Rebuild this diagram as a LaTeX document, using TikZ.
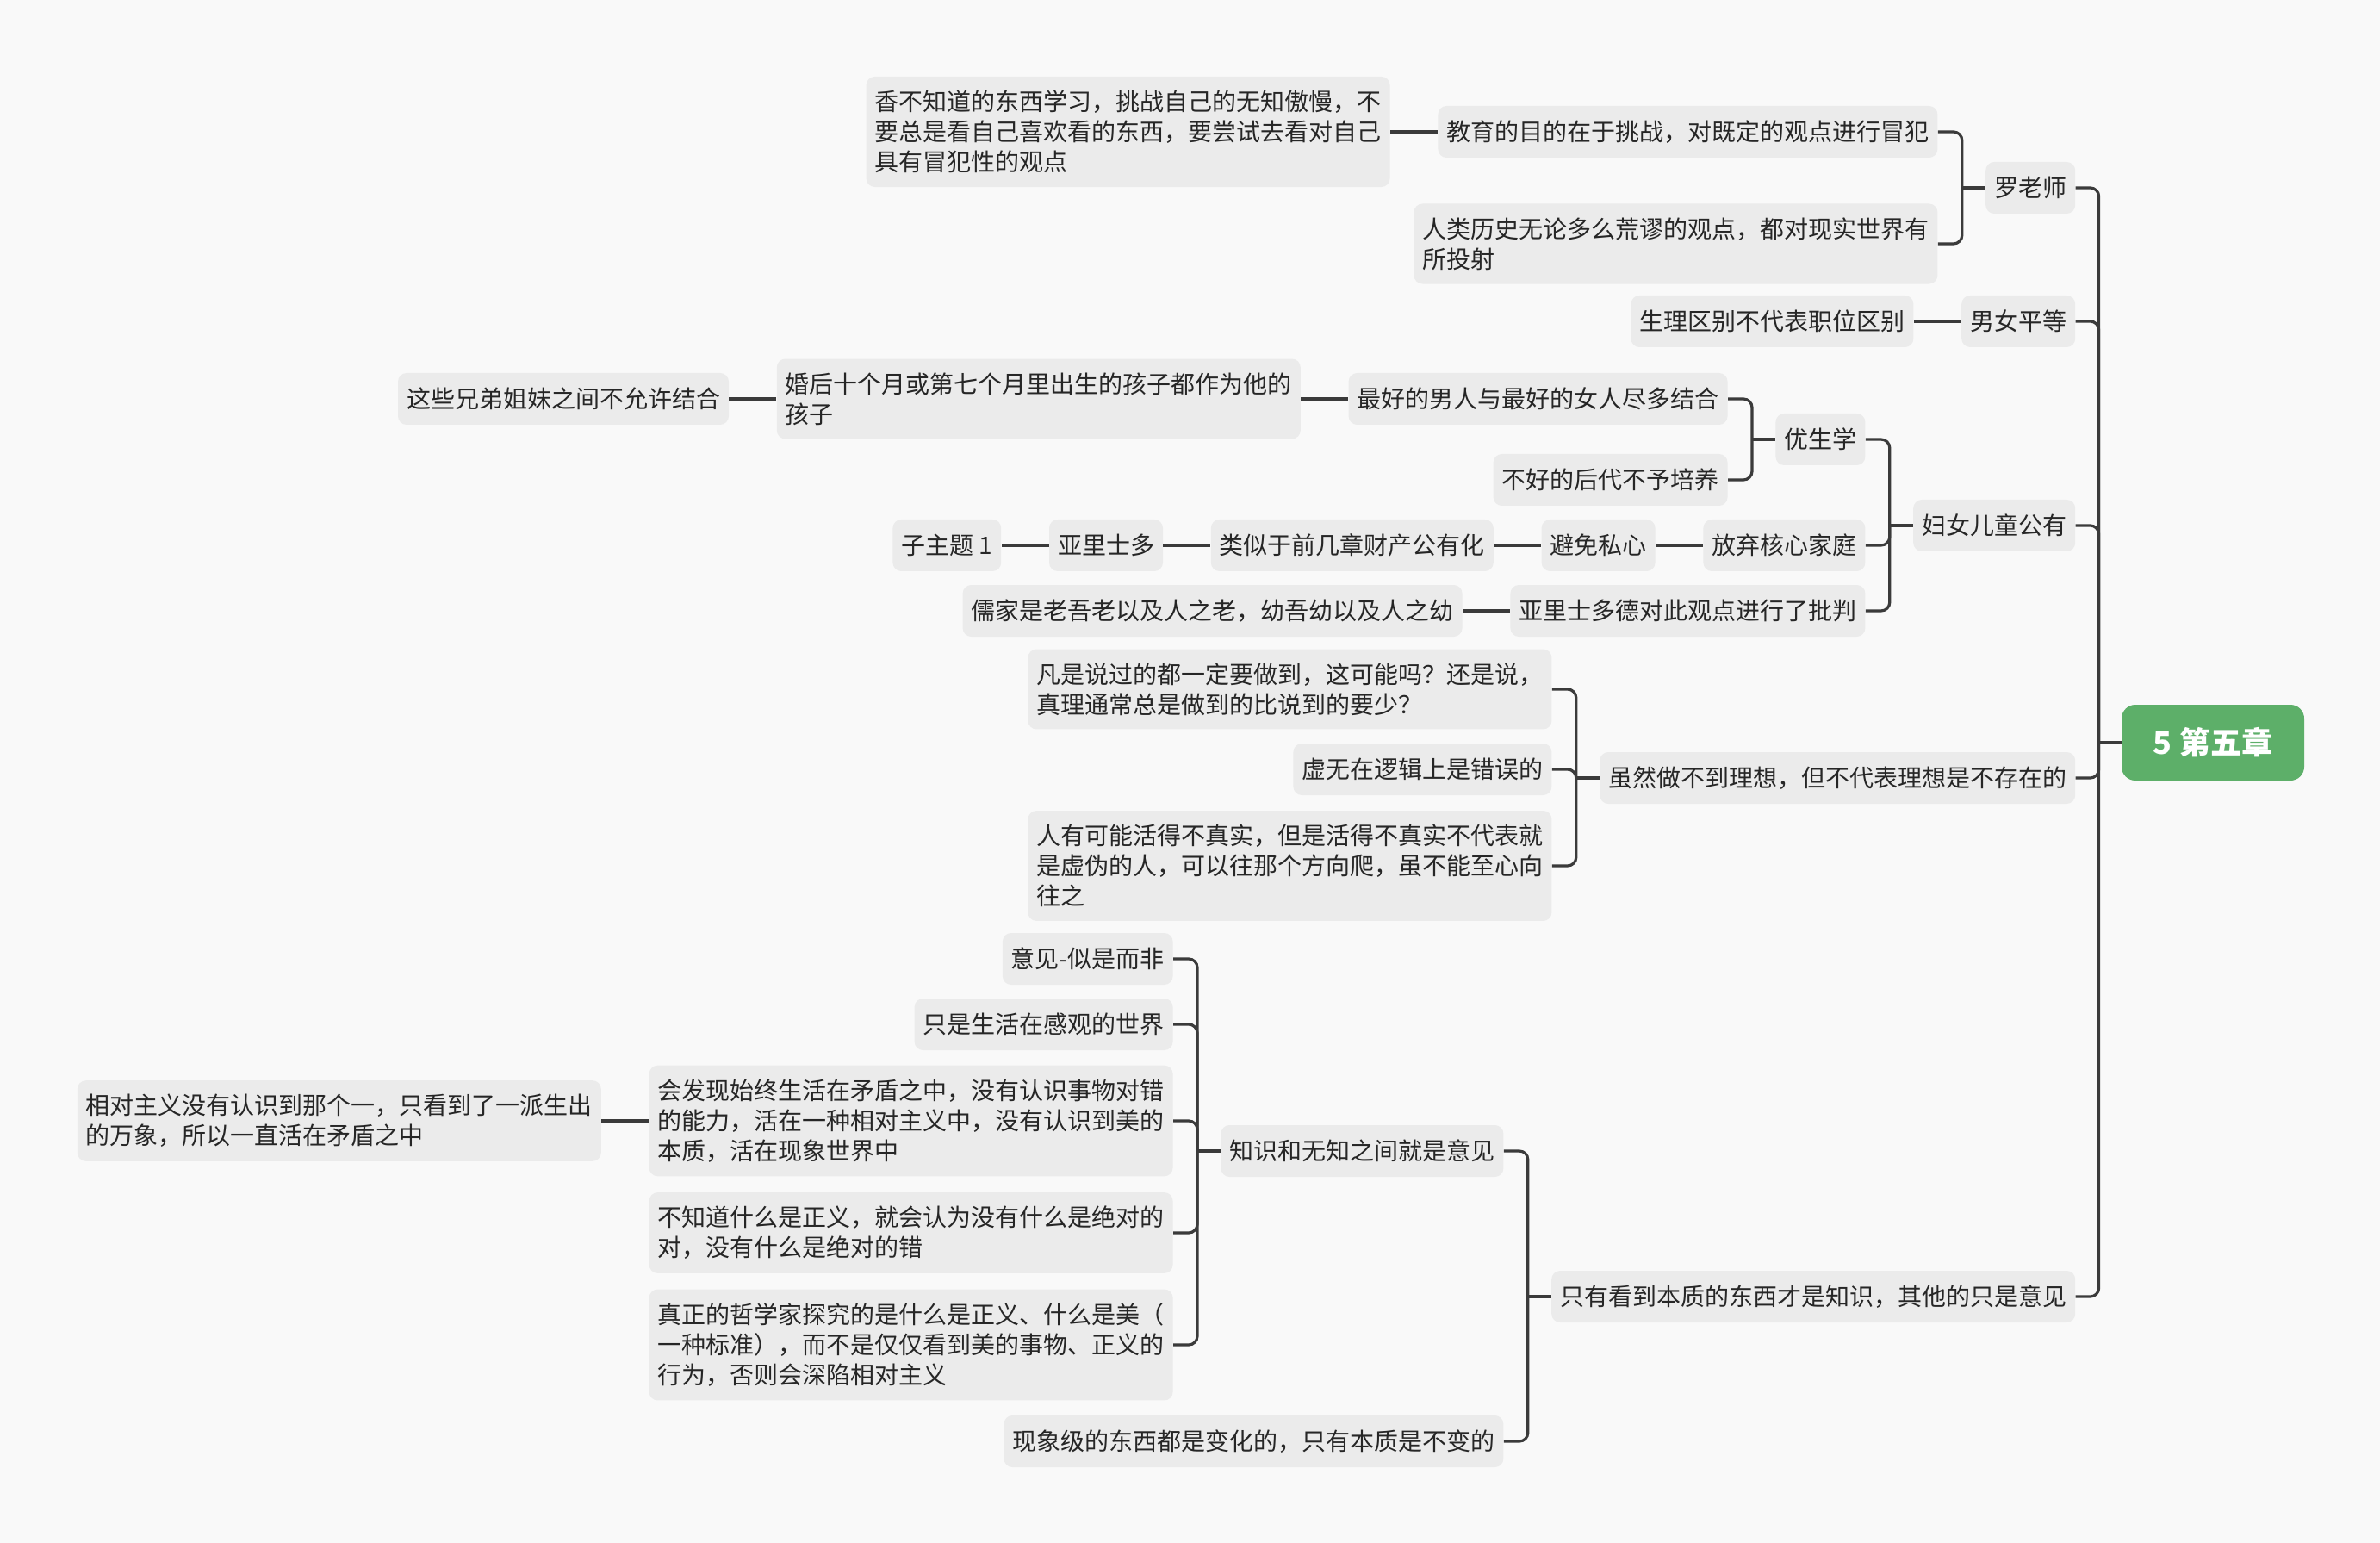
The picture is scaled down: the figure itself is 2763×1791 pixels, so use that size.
\documentclass[tikz,border=0pt]{standalone}
\usepackage{fontspec}
\setmainfont{Noto Sans CJK SC}
\usetikzlibrary{calc}
\definecolor{bg}{HTML}{F9F9F9}
\definecolor{nodefill}{HTML}{EBEBEB}
\definecolor{linec}{HTML}{3B3B3B}
\definecolor{rootg}{HTML}{5DAF69}
\definecolor{txt}{HTML}{262626}
% child node: parent, name, dy, text
\newcommand\kid[4]{\node[topic] (#2) at ($(#1.west)+(-55,#3)$) {#4};}
% bracket connector: parent, child
\newcommand\brk[2]{%
  \draw[conn, rounded corners=5pt] (#2.east) -| ($(#1.west)+(-27,0)$);
  \draw[conn] ($(#1.west)+(-27,0)$) -- (#1.west);}
% straight connector
\newcommand\str[2]{\draw[conn] (#2.east) -- (#1.west);}
\begin{document}
\begin{tikzpicture}[x=0.5pt,y=-0.5pt,
  topic/.style={fill=nodefill, rounded corners=5pt, inner xsep=5pt, inner ysep=8pt,
    minimum height=30pt, align=left, font=\fontsize{14pt}{17.5pt}\selectfont,
    text=txt, anchor=east},
  rootnode/.style={fill=rootg, rounded corners=8pt, minimum width=106pt, minimum height=44pt,
    text=white, font=\fontsize{18pt}{22pt}\selectfont\bfseries},
  conn/.style={draw=linec, line width=1.6pt},
]
\fill[bg] (0,0) rectangle (2763,1791);
\useasboundingbox (0,0) rectangle (2763,1791);

\node[rootnode] (R) at (2569,862) {5 第五章};

% level 1
\node[topic] (A) at ($(R.west)+(-53,-644)$) {罗老师};
\node[topic] (B) at ($(R.west)+(-53,-489)$) {男女平等};
\node[topic] (C) at ($(R.west)+(-53,-252)$) {妇女儿童公有};
\node[topic] (D) at ($(R.west)+(-53,41)$) {虽然做不到理想，但不代表理想是不存在的};
\node[topic] (E) at ($(R.west)+(-53,643)$) {只有看到本质的东西才是知识，其他的只是意见};
\foreach \n in {A,B,C,D,E}{
  \draw[conn, rounded corners=5pt] (\n.east) -| ($(R.west)+(-26,0)$);
}
\draw[conn] ($(R.west)+(-26,0)$) -- (R.west);

% 罗老师
\kid{A}{A1}{-65}{教育的目的在于挑战，对既定的观点进行冒犯}
\kid{A}{A2}{65}{人类历史无论多么荒谬的观点，都对现实世界有\\所投射}
\kid{A1}{A1a}{0}{香不知道的东西学习，挑战自己的无知傲慢，不\\要总是看自己喜欢看的东西，要尝试去看对自己\\具有冒犯性的观点}
\brk{A}{A1}\brk{A}{A2}
\str{A1}{A1a}

% 男女平等
\kid{B}{B1}{0}{生理区别不代表职位区别}
\str{B}{B1}

% 妇女儿童公有
\kid{C}{C1}{-100}{优生学}
\kid{C}{C2}{23}{放弃核心家庭}
\kid{C}{C3}{99}{亚里士多德对此观点进行了批判}
\brk{C}{C1}\brk{C}{C2}\brk{C}{C3}
\kid{C1}{C1a}{-47}{最好的男人与最好的女人尽多结合}
\kid{C1}{C1b}{47}{不好的后代不予培养}
\brk{C1}{C1a}\brk{C1}{C1b}
\kid{C1a}{C1a1}{0}{婚后十个月或第七个月里出生的孩子都作为他的\\孩子}
\kid{C1a1}{C1a2}{0}{这些兄弟姐妹之间不允许结合}
\str{C1a}{C1a1}\str{C1a1}{C1a2}
\kid{C2}{C2a}{0}{避免私心}
\kid{C2a}{C2b}{0}{类似于前几章财产公有化}
\kid{C2b}{C2c}{0}{亚里士多}
\kid{C2c}{C2d}{0}{子主题 1}
\str{C2}{C2a}\str{C2a}{C2b}\str{C2b}{C2c}\str{C2c}{C2d}
\kid{C3}{C3a}{0}{儒家是老吾老以及人之老，幼吾幼以及人之幼}
\str{C3}{C3a}

% 虽然做不到理想
\kid{D}{D1}{-103}{凡是说过的都一定要做到，这可能吗？还是说，\\真理通常总是做到的比说到的要少？}
\kid{D}{D2}{-10}{虚无在逻辑上是错误的}
\kid{D}{D3}{102}{人有可能活得不真实，但是活得不真实不代表就\\是虚伪的人，可以往那个方向爬，虽不能至心向\\往之}
\brk{D}{D1}\brk{D}{D2}\brk{D}{D3}

% 只有看到本质
\kid{E}{E1}{-169}{知识和无知之间就是意见}
\kid{E}{E2}{168}{现象级的东西都是变化的，只有本质是不变的}
\brk{E}{E1}\brk{E}{E2}
\kid{E1}{E1a}{-223}{意见-似是而非}
\kid{E1}{E1b}{-147}{只是生活在感观的世界}
\kid{E1}{E1c}{-35}{会发现始终生活在矛盾之中，没有认识事物对错\\的能力，活在一种相对主义中，没有认识到美的\\本质，活在现象世界中}
\kid{E1}{E1d}{95}{不知道什么是正义，就会认为没有什么是绝对的\\对，没有什么是绝对的错}
\kid{E1}{E1e}{225}{真正的哲学家探究的是什么是正义、什么是美（\\一种标准），而不是仅仅看到美的事物、正义的\\行为，否则会深陷相对主义}
\brk{E1}{E1a}\brk{E1}{E1b}\brk{E1}{E1c}\brk{E1}{E1d}\brk{E1}{E1e}
\kid{E1c}{E1c1}{0}{相对主义没有认识到那个一，只看到了一派生出\\的万象，所以一直活在矛盾之中}
\str{E1c}{E1c1}
\end{tikzpicture}
\end{document}
